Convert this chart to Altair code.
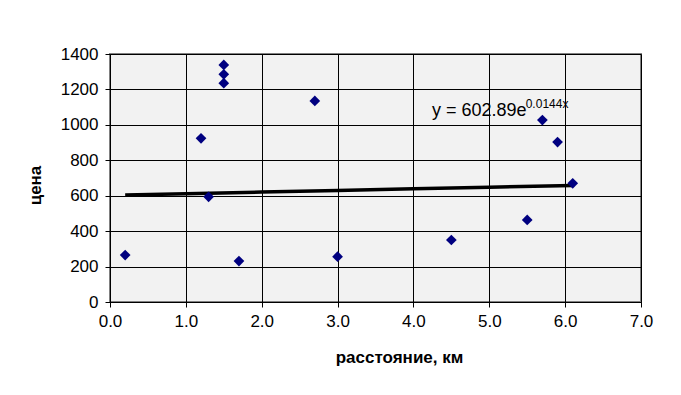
import altair as alt
import pandas as pd

# Data
dist = [0.2, 1.2, 1.3, 1.5, 1.5, 1.5, 1.7, 2.7, 3.0, 4.5, 5.5, 5.7, 5.9, 6.1]
price = [265, 924, 594, 1338, 1285, 1235, 231, 1135, 256, 350, 463, 1027, 903, 670]

# Exponential trendline coefficients (as shown on chart)
coef_a = 602.89
coef_b = 0.0144
trend_x = [0.2, 1.0, 2.0, 3.0, 4.0, 5.0, 6.1]

eq_main = "y = 602.89e"
eq_sup = "0.0144x"

x_ticks = [0, 1, 2, 3, 4, 5, 6, 7]
y_ticks = [0, 200, 400, 600, 800, 1000, 1200, 1400]

pts = pd.DataFrame({"x": dist, "y": price})
trend = pd.DataFrame({"x": trend_x})

FONT = "Liberation Sans"

xscale = alt.Scale(domain=[0, 7], nice=False, zero=False)
yscale = alt.Scale(domain=[0, 1400], nice=False)

xaxis = alt.Axis(
    values=x_ticks, format=".1f", title="расстояние, км",
    grid=True, gridColor="black", gridWidth=1, domainColor="black", tickColor="black",
    tickSize=5, labelPadding=6, labelFontSize=17, labelFont=FONT, labelColor="black",
    labelFlush=False, labelOverlap=False,
    titleFont=FONT, titleFontSize=17, titleFontWeight="bold", titleColor="black",
    titleX=289, titleY=60, titleBaseline="alphabetic", titleAlign="center",
)
yaxis = alt.Axis(
    values=y_ticks, format="d", title="цена",
    grid=True, gridColor="black", gridWidth=1, domainColor="black", tickColor="black",
    tickSize=5, labelPadding=7, labelFontSize=17, labelFont=FONT, labelColor="black",
    labelFlush=False, labelOverlap=False,
    titleFont=FONT, titleFontSize=17, titleFontWeight="bold", titleColor="black",
    titleX=-75, titleY=131, titleAngle=-90, titleAlign="center", titleBaseline="middle",
)

line = alt.Chart(trend).transform_calculate(
    y=f"{coef_a} * exp({coef_b} * datum.x)"
).mark_line(color="black", strokeWidth=3.5).encode(
    x=alt.X("x:Q", scale=xscale, axis=xaxis),
    y=alt.Y("y:Q", scale=yscale, axis=yaxis),
)

points = alt.Chart(pts).mark_point(shape="diamond", filled=True, size=115, color="#000080", opacity=1).encode(
    x=alt.X("x:Q", scale=xscale, axis=xaxis),
    y=alt.Y("y:Q", scale=yscale, axis=yaxis),
)

labels = pd.DataFrame({"x": [4.245, 5.48], "y": [1081, 1118], "t": [eq_main, eq_sup]})
eq1 = alt.Chart(labels.iloc[[0]]).mark_text(align="left", baseline="middle", font=FONT, fontSize=18, color="black").encode(
    x=alt.X("x:Q", scale=xscale, axis=xaxis), y=alt.Y("y:Q", scale=yscale, axis=yaxis), text="t:N"
)
eq2 = alt.Chart(labels.iloc[[1]]).mark_text(align="left", baseline="middle", font=FONT, fontSize=12, color="black").encode(
    x=alt.X("x:Q", scale=xscale, axis=xaxis), y=alt.Y("y:Q", scale=yscale, axis=yaxis), text="t:N"
)

chart = alt.layer(line, points, eq1, eq2).properties(
    width=531, height=248,
    autosize=alt.AutoSizeParams(type="none"),
    padding={"left": 102, "top": 46, "right": 32, "bottom": 85},
    background="white",
).configure_view(
    fill="#F2F2F2", stroke="#808080", strokeWidth=2,
)

chart.save("out.html", embed_options={"renderer": "svg", "actions": False})
